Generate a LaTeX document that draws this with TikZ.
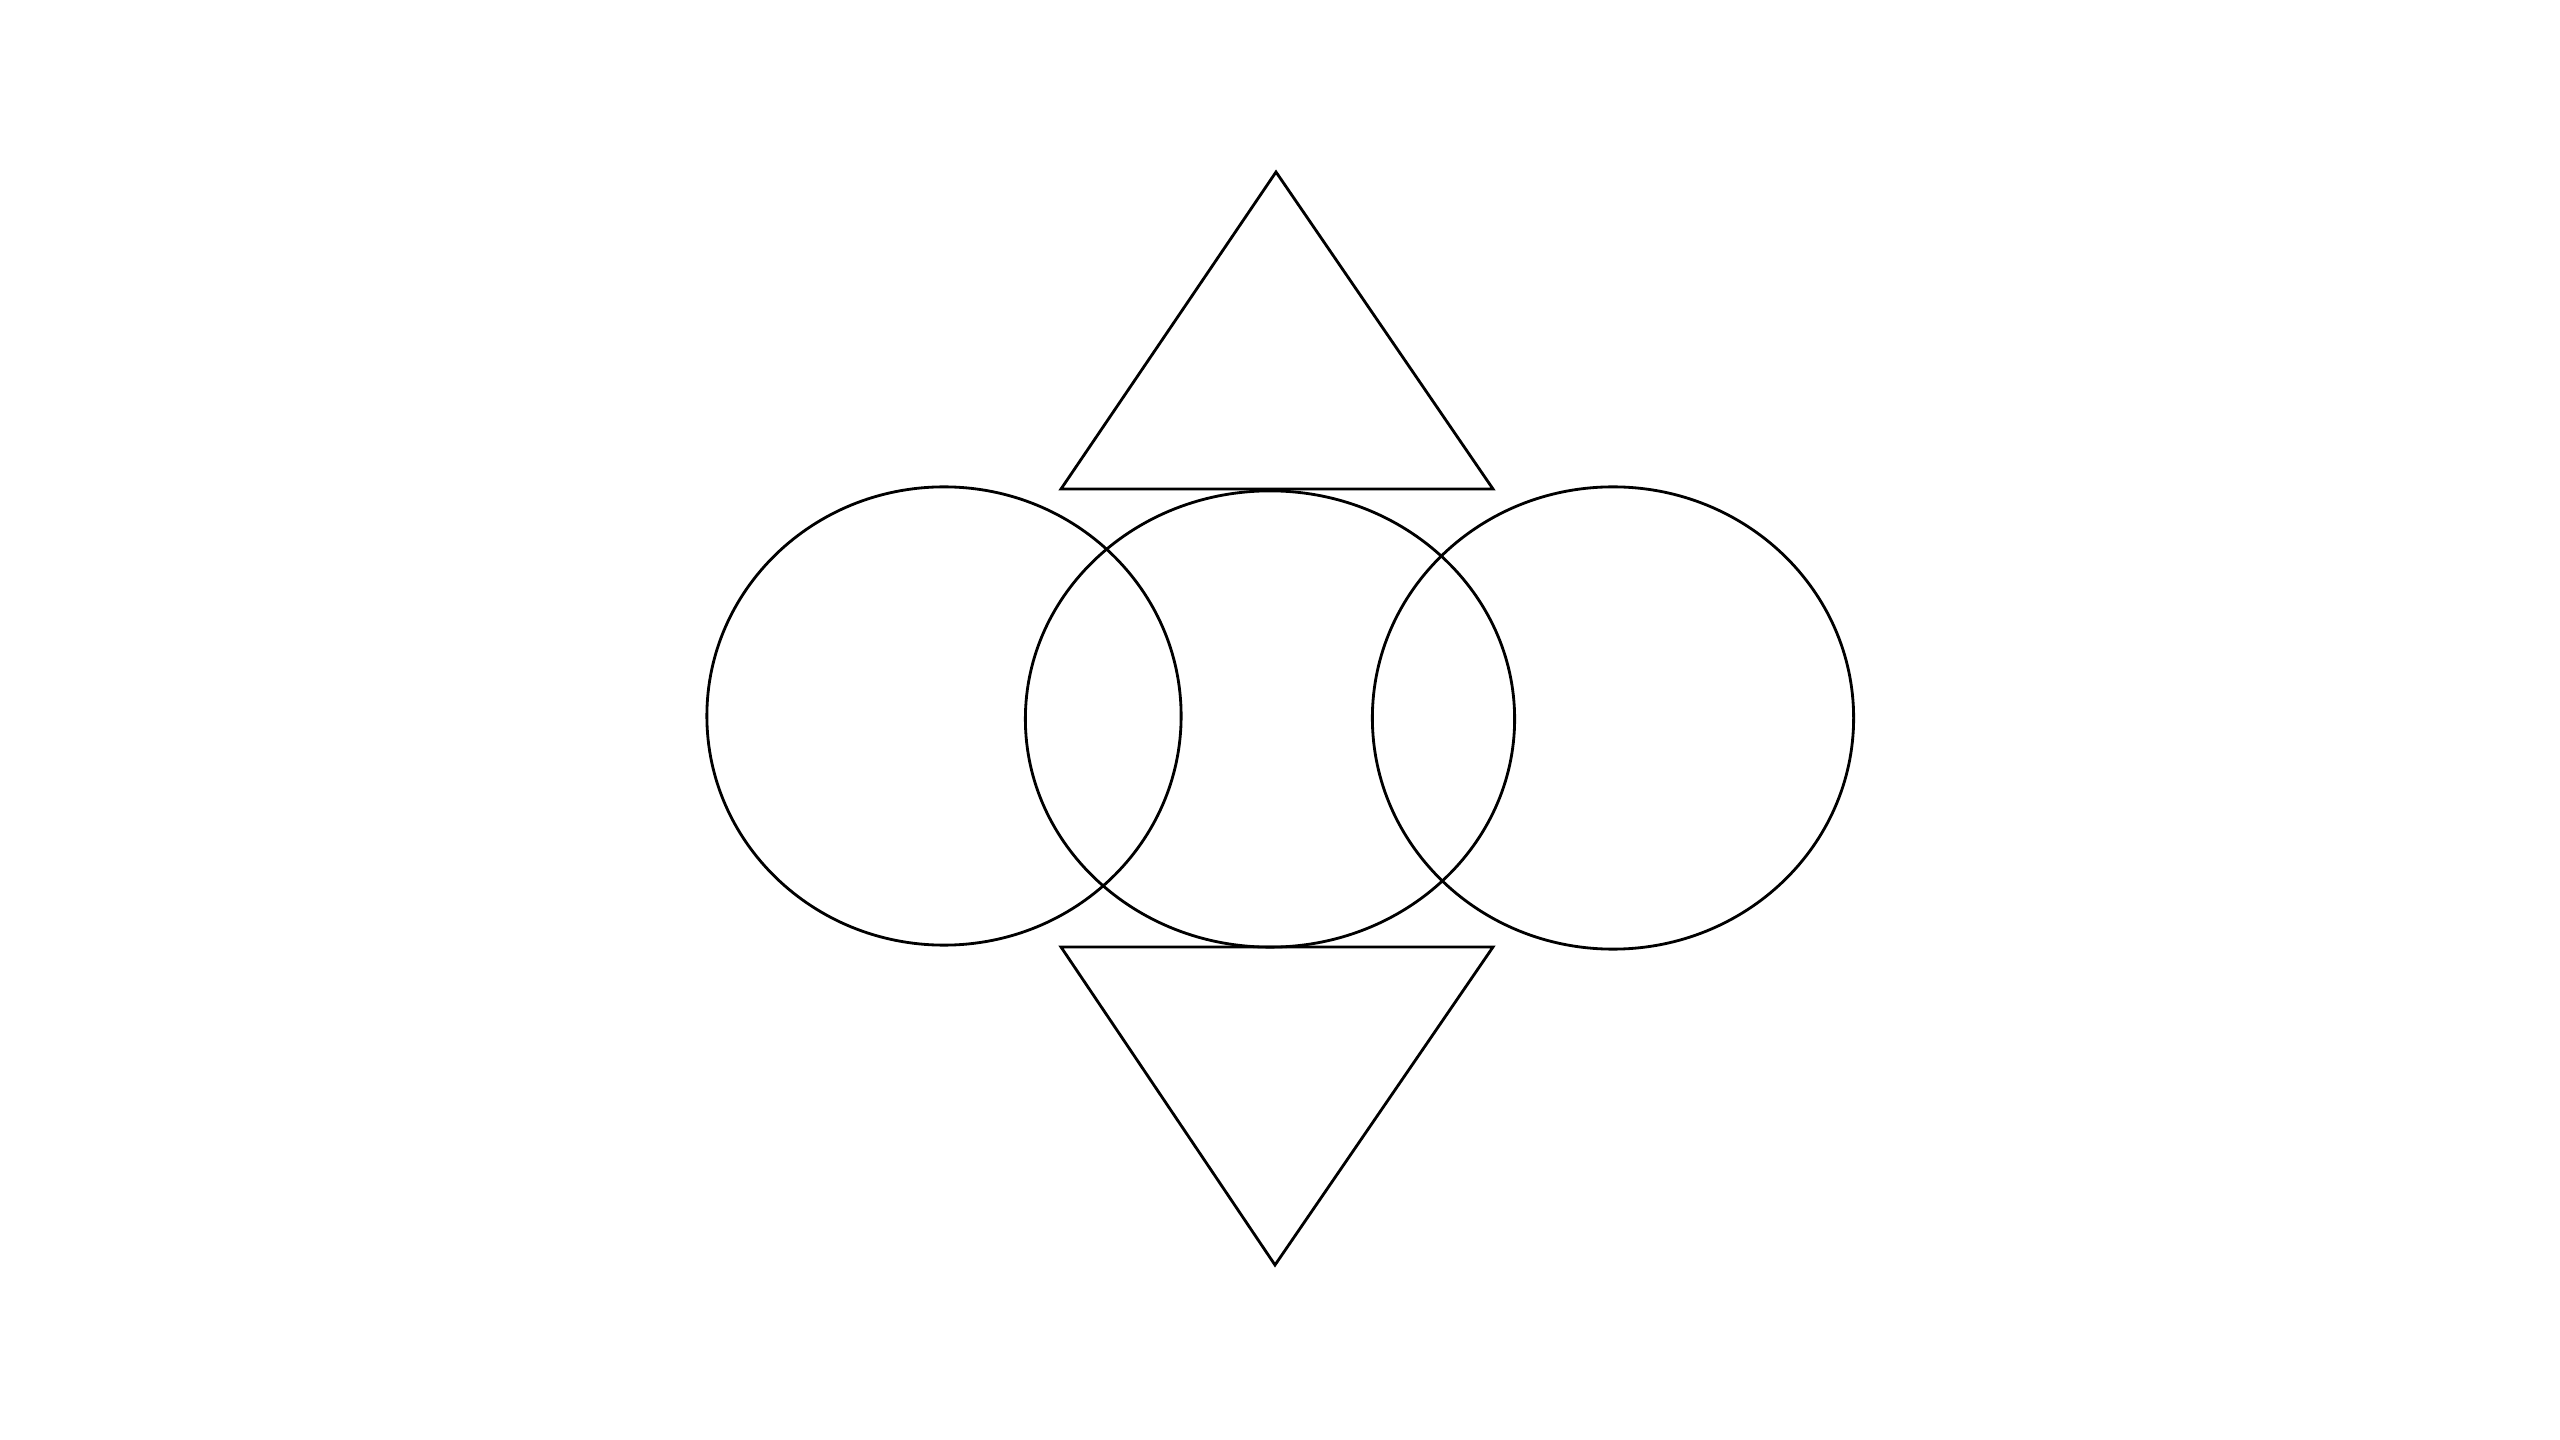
\documentclass[tikz,border=0pt]{standalone}
\usepackage{latexsym,amsfonts,amssymb,amsthm,amsmath}
\usepackage {tikz}
\usetikzlibrary {positioning,shapes.geometric}

\begin{document}
\begin{tikzpicture}[x=0.01cm,y=-0.01cm,line width=0.8pt]
  \tikzstyle{ring}=[ellipse ,draw ,black ,inner sep =0pt ,line width=0.8pt]
  \useasboundingbox (0,0) rectangle (2560,1440);
  \node[ring,minimum width =4.74cm,minimum height =4.58cm] (C_1) at (944,716) {};
  \node[ring,minimum width =4.89cm,minimum height =4.56cm] (C_2) at (1270,719) {};
  \node[ring,minimum width =4.81cm,minimum height =4.62cm] (C_3) at (1613,718) {};
  \coordinate (T_1) at (1276,172);
  \coordinate (T_2) at (1061,489);
  \coordinate (T_3) at (1493,489);
  \coordinate (B_1) at (1061,947);
  \coordinate (B_2) at (1493,947);
  \coordinate (B_3) at (1275,1265);
  \draw (T_1) -- (T_2) -- (T_3) -- cycle;
  \draw (B_1) -- (B_2) -- (B_3) -- cycle;
\end{tikzpicture}
\end{document}
